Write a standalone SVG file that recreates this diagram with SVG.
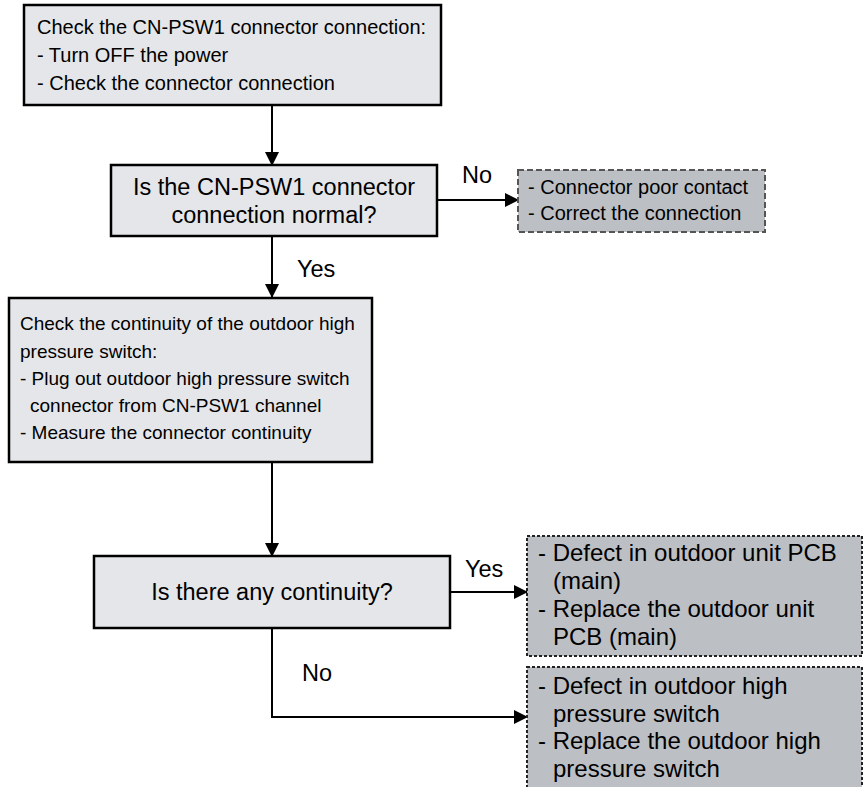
<svg xmlns="http://www.w3.org/2000/svg" width="865" height="787" viewBox="0 0 865 787">
<style>
.box{fill:#e5e6e9;stroke:#000;stroke-width:2.5}
.res{fill:#bcbfc4;stroke:#555;stroke-width:2;stroke-dasharray:6 3}
.res2{fill:#bcbfc4;stroke:#222;stroke-width:2;stroke-dasharray:3 2}
.t{font-family:"Liberation Sans",Arial,sans-serif;font-size:20px;fill:#000}
.m{font-size:23.5px}
.s{font-size:19px}
.b{font-size:24px}
.c{text-anchor:middle}
.ln{fill:none;stroke:#000;stroke-width:2}
</style>
<defs>
<marker id="ah" markerWidth="14" markerHeight="14" refX="13" refY="7" orient="auto" markerUnits="userSpaceOnUse">
<path d="M0,0 L14,7 L0,14 Z" fill="#000"/>
</marker>
</defs>
<g id="connectors">
<line class="ln" x1="272" y1="105" x2="272" y2="165" marker-end="url(#ah)"/>
<line class="ln" x1="437" y1="200" x2="518" y2="200" marker-end="url(#ah)"/>
<line class="ln" x1="272" y1="236" x2="272" y2="297" marker-end="url(#ah)"/>
<line class="ln" x1="272" y1="462" x2="272" y2="556" marker-end="url(#ah)"/>
<line class="ln" x1="450" y1="592" x2="527" y2="592" marker-end="url(#ah)"/>
<polyline class="ln" points="272,628 272,717 527,717" marker-end="url(#ah)"/>
<text class="t m" x="462" y="183">No</text>
<text class="t m" x="297" y="277">Yes</text>
<text class="t m" x="465" y="577">Yes</text>
<text class="t m" x="302" y="681">No</text>
</g>
<g id="n1">
<rect class="box" x="24" y="5" width="417" height="100"/>
<text class="t" x="37" y="34">Check the CN-PSW1 connector connection:</text>
<text class="t" x="37" y="62">- Turn OFF the power</text>
<text class="t" x="37" y="90">- Check the connector connection</text>
</g>
<g id="n2">
<rect class="box" x="111" y="165" width="326" height="71"/>
<text class="t m c" x="274" y="195">Is the CN-PSW1 connector</text>
<text class="t m c" x="274" y="223">connection normal?</text>
</g>
<g id="r1">
<rect class="res" x="518" y="170" width="247" height="62"/>
<text class="t" x="528" y="194">- Connector poor contact</text>
<text class="t" x="528" y="220">- Correct the connection</text>
</g>
<g id="n3">
<rect class="box" x="9" y="298" width="363" height="164"/>
<text class="t s" x="20" y="330">Check the continuity of the outdoor high</text>
<text class="t s" x="20" y="358">pressure switch:</text>
<text class="t s" x="20" y="385">- Plug out outdoor high pressure switch</text>
<text class="t s" x="30" y="412">connector from CN-PSW1 channel</text>
<text class="t s" x="20" y="439">- Measure the connector continuity</text>
</g>
<g id="n4">
<rect class="box" x="94" y="556" width="356" height="72"/>
<text class="t m c" x="272" y="600">Is there any continuity?</text>
</g>
<g id="r2">
<rect class="res2" x="527" y="536" width="335" height="120"/>
<text class="t b" x="538" y="561">- Defect in outdoor unit PCB</text>
<text class="t b" x="553" y="589">(main)</text>
<text class="t b" x="538" y="617">- Replace the outdoor unit</text>
<text class="t b" x="553" y="645">PCB (main)</text>
</g>
<g id="r3">
<rect class="res2" x="527" y="667" width="335" height="123"/>
<text class="t b" x="538" y="694">- Defect in outdoor high</text>
<text class="t b" x="553" y="722">pressure switch</text>
<text class="t b" x="538" y="749">- Replace the outdoor high</text>
<text class="t b" x="553" y="777">pressure switch</text>
</g>
</svg>
